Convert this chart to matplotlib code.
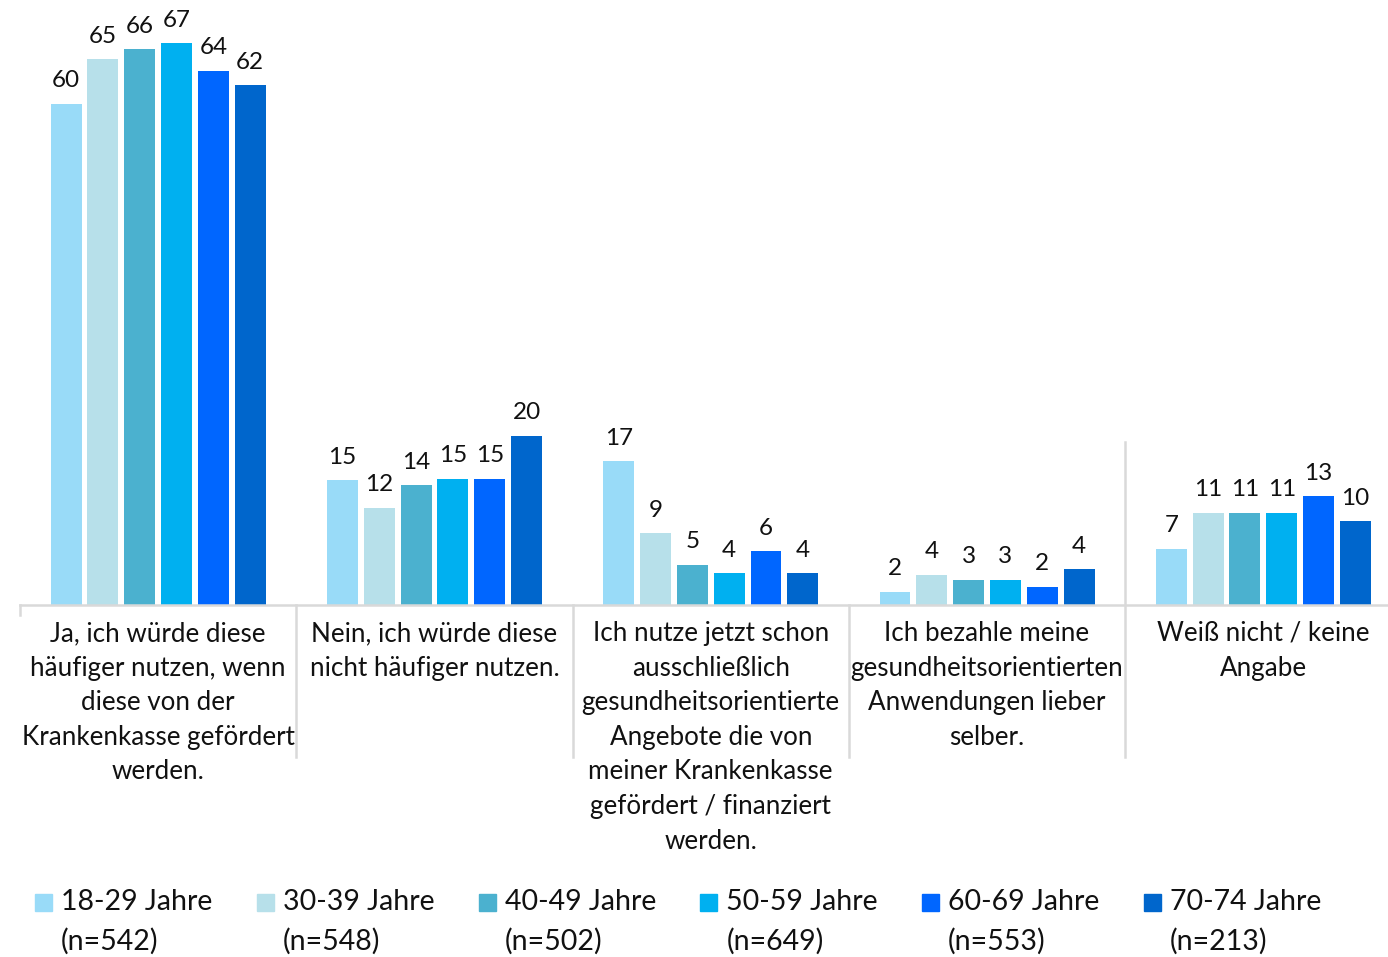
import matplotlib
matplotlib.use("Agg")
import matplotlib.pyplot as plt
from matplotlib.patches import Rectangle
from matplotlib.lines import Line2D

plt.rcParams["font.family"] = ["Lato", "DejaVu Sans"]

categories = [
    "Ja, ich würde diese\nhäufiger nutzen, wenn\ndiese von der\nKrankenkasse gefördert\nwerden.",
    "Nein, ich würde diese\nnicht häufiger nutzen.",
    "Ich nutze jetzt schon\nausschließlich\ngesundheitsorientierte\nAngebote die von\nmeiner Krankenkasse\ngefördert / finanziert\nwerden.",
    "Ich bezahle meine\ngesundheitsorientierten\nAnwendungen lieber\nselber.",
    "Weiß nicht / keine\nAngabe",
]
series = ["18-29 Jahre", "30-39 Jahre", "40-49 Jahre", "50-59 Jahre", "60-69 Jahre", "70-74 Jahre"]
sizes = ["(n=542)", "(n=548)", "(n=502)", "(n=649)", "(n=553)", "(n=213)"]
colors = ["#99DBF8", "#B7E0EA", "#4BB1CF", "#00B0F0", "#0066FF", "#0066CC"]

# bar heights (percent) and the printed rounded labels
age_18_29 = [59.9, 14.9, 17.2, 1.6, 6.7]
age_30_39 = [65.2, 11.6, 8.6, 3.6, 11.0]
age_40_49 = [66.4, 14.3, 4.8, 3.0, 11.0]
age_50_59 = [67.1, 15.1, 3.8, 3.0, 11.0]
age_60_69 = [63.8, 15.1, 6.4, 2.2, 13.0]
age_70_74 = [62.1, 20.2, 3.8, 4.3, 10.0]
values = [age_18_29, age_30_39, age_40_49, age_50_59, age_60_69, age_70_74]

lab_18_29 = [60, 15, 17, 2, 7]
lab_30_39 = [65, 12, 9, 4, 11]
lab_40_49 = [66, 14, 5, 3, 11]
lab_50_59 = [67, 15, 4, 3, 11]
lab_60_69 = [64, 15, 6, 2, 13]
lab_70_74 = [62, 20, 4, 4, 10]
labels = [lab_18_29, lab_30_39, lab_40_49, lab_50_59, lab_60_69, lab_70_74]

W, H = 1388, 957
fig = plt.figure(figsize=(W / 100, H / 100), dpi=100)
base_y = 605
ax = fig.add_axes([20 / W, (H - base_y) / H, 1381.5 / W, base_y / H])

pitch = 0.1333
bw = 0.112
for i, (vals, labs, col) in enumerate(zip(values, labels, colors)):
    xs = [g + (i - 2.5) * pitch for g in range(len(categories))]
    ax.bar(xs, vals, width=bw, color=col, zorder=2)
    for x, v, l in zip(xs, vals, labs):
        ax.annotate(str(l), (x, v), xytext=(0, 9), textcoords="offset points",
                    ha="center", va="bottom", fontsize=17.5, color="#111111")

ax.set_xlim(-0.5, 4.5)
ax.set_ylim(0, base_y / 8.37)
ax.set_yticks([])
ax.set_xticks(range(len(categories)))
ax.set_xticklabels(categories, fontsize=18.7, linespacing=1.48, color="#111111")
ax.tick_params(axis="x", length=0, pad=11.5)
for s in ["left", "right", "top"]:
    ax.spines[s].set_visible(False)
ax.spines["bottom"].set_color("#d9d9d9")
ax.spines["bottom"].set_linewidth(1.8)
ax.spines["bottom"].set_zorder(3)

# category separators
tr = ax.get_xaxis_transform()
sep_low = -(757 - base_y) / base_y
seps = [(-0.5, -10 / base_y, 0), (0.5, sep_low, 0), (1.5, sep_low, 0),
        (2.5, sep_low, 0), (3.5, sep_low, (base_y - 442) / base_y)]
for x, y0, y1 in seps:
    ax.add_line(Line2D([x, x], [y0, y1], transform=tr, color="#d9d9d9",
                       lw=1.8, clip_on=False, zorder=1))

# legend, drawn by hand so the swatch sits at the first text line
for i, (name, n, col) in enumerate(zip(series, sizes, colors)):
    x0 = 35 + i * 221.8
    fig.add_artist(Rectangle((x0 / W, (H - 911) / H), 17 / W, 17 / H,
                             transform=fig.transFigure, color=col))
    fig.text((x0 + 26) / W, (H - 902) / H, name, fontsize=20.5, va="center",
             ha="left", color="#111111")
    fig.text((x0 + 26) / W, (H - 941) / H, n, fontsize=20.5, va="center",
             ha="left", color="#111111")

fig.savefig("out.png", dpi=100)
